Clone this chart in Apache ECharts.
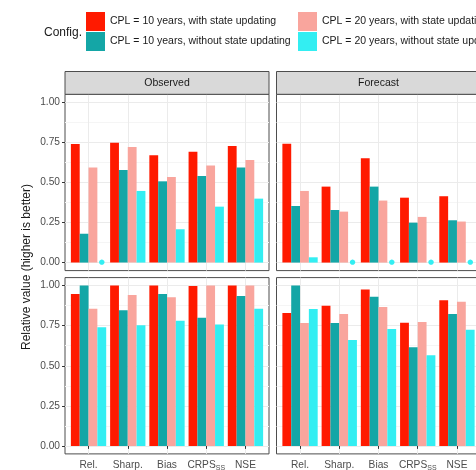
<!DOCTYPE html>
<html><head><meta charset="utf-8">
<script src="https://cdn.jsdelivr.net/npm/echarts@6/dist/echarts.min.js"></script>
<style>html,body{margin:0;padding:0;background:#fff}#c{width:476px;height:470px}</style>
</head><body><div id="c"></div>
<script>
const categories = ['Rel.', 'Sharp.', 'Bias', 'CRPS_SS', 'NSE'];
const configNames = [
  'CPL = 10 years, with state updating',
  'CPL = 10 years, without state updating',
  'CPL = 20 years, with state updating',
  'CPL = 20 years, without state updating'
];
const facetNames = ['Observed', 'Forecast'];
const yTicks = [0, 0.25, 0.5, 0.75, 1];
const yMinor = [0.125, 0.375, 0.625, 0.875];
const xPositions = [1, 2, 3, 4, 5];

// top row
const obsTop10With    = [0.740, 0.748, 0.669, 0.692, 0.728];
const obsTop10Without = [0.180, 0.578, 0.507, 0.540, 0.593];
const obsTop20With    = [0.593, 0.721, 0.534, 0.605, 0.640];
const obsTop20Without = [0,     0.447, 0.208, 0.349, 0.399];
const fcTop10With     = [0.742, 0.474, 0.651, 0.405, 0.414];
const fcTop10Without  = [0.353, 0.328, 0.474, 0.249, 0.264];
const fcTop20With     = [0.447, 0.318, 0.387, 0.285, 0.256];
const fcTop20Without  = [0.033, 0,     0,     0,     0];
// bottom row
const obsBot10With    = [0.948, 1.000, 1.000, 0.997, 1.000];
const obsBot10Without = [1.000, 0.846, 0.948, 0.800, 0.935];
const obsBot20With    = [0.856, 0.942, 0.927, 1.000, 1.000];
const obsBot20Without = [0.740, 0.752, 0.781, 0.758, 0.856];
const fcBot10With     = [0.829, 0.875, 0.975, 0.769, 0.908];
const fcBot10Without  = [1.000, 0.767, 0.931, 0.615, 0.823];
const fcBot20With     = [0.767, 0.823, 0.867, 0.773, 0.900];
const fcBot20Without  = [0.854, 0.660, 0.729, 0.565, 0.725];

const colors = ['#FF1A00', '#14A6A6', '#F9A59D', '#33EEF2'];

const panels = [
  { row: 0, col: 0, series: [obsTop10With, obsTop10Without, obsTop20With, obsTop20Without] },
  { row: 0, col: 1, series: [fcTop10With, fcTop10Without, fcTop20With, fcTop20Without] },
  { row: 1, col: 0, series: [obsBot10With, obsBot10Without, obsBot20With, obsBot20Without] },
  { row: 1, col: 1, series: [fcBot10With, fcBot10Without, fcBot20With, fcBot20Without] }
];

const FONT = '"Liberation Sans", Arial, sans-serif';
const colLeft = [65, 276.5];
const panelW = 204;
const rowTop = [94.3, 277.6];
const panelH = 176.3;
const stripTop = 71.5, stripH = 22.8;
const barW = panelW / 5.2 * 0.9 / 4;

const grid = [], xAxis = [], yAxis = [], series = [];
panels.forEach((p, i) => {
  grid.push({
    left: colLeft[p.col], top: rowTop[p.row], width: panelW, height: panelH,
    show: true, borderColor: '#4d4d4d', borderWidth: 1, backgroundColor: '#fff',
    containLabel: false, outerBoundsMode: 'none'
  });
  xAxis.push({
    type: 'value', gridIndex: i, min: 0.4, max: 5.6,
    axisLine: { show: false },
    axisTick: { show: p.row === 1, customValues: xPositions, length: 3, lineStyle: { color: '#333' } },
    axisLabel: {
      show: p.row === 1, customValues: xPositions, margin: 5,
      color: '#4d4d4d', fontSize: 10.2, fontFamily: FONT,
      formatter: v => {
        const c = categories[Math.round(v) - 1];
        if (c === 'CRPS_SS') return '{n|CRPS}{s|SS}';
        return '{n|' + c + '}';
      },
      rich: {
        n: { fontSize: 10.2, color: '#4d4d4d', fontFamily: FONT, lineHeight: 12 },
        s: { fontSize: 7, color: '#4d4d4d', fontFamily: FONT, padding: [6, 0, 0, 0], lineHeight: 12 }
      }
    },
    splitLine: { show: true, lineStyle: { color: '#ebebeb', width: 1 } }
  });
  yAxis.push({
    type: 'value', gridIndex: i, min: -0.05, max: 1.05,
    axisLine: { show: false },
    axisTick: { show: p.col === 0, customValues: yTicks, length: 3, lineStyle: { color: '#333' } },
    axisLabel: {
      show: p.col === 0, customValues: yTicks, margin: 5,
      color: '#4d4d4d', fontSize: 10.2, fontFamily: FONT,
      formatter: v => v.toFixed(2)
    },
    splitLine: { show: true, lineStyle: { color: '#ebebeb', width: 1 } }
  });
  yAxis.push({
    type: 'value', gridIndex: i, min: -0.05, max: 1.05, position: 'left',
    axisLine: { show: false },
    axisTick: { show: false, customValues: yMinor },
    axisLabel: { show: false, customValues: yMinor },
    splitLine: { show: true, lineStyle: { color: '#f5f5f5', width: 1 } }
  });
  p.series.forEach((vals, k) => {
    series.push({
      type: 'bar', name: configNames[k], xAxisIndex: i, yAxisIndex: 2 * i,
      barWidth: barW, barGap: '0%',
      itemStyle: { color: colors[k] },
      emphasis: { disabled: true },
      data: vals.map((v, j) => {
        const item = { value: [xPositions[j], v] };
        if (v === 0) {
          item.label = { show: true, position: 'inside', formatter: '●', color: colors[k], fontSize: 7, fontFamily: 'DejaVu Sans' };
        }
        return item;
      })
    });
  });
});

const graphic = [];
[0, 1].forEach(c => {
  graphic.push({
    type: 'rect', shape: { x: colLeft[c], y: stripTop, width: panelW, height: stripH },
    style: { fill: '#d9d9d9', stroke: '#4d4d4d', lineWidth: 1 }, z: 10
  });
  graphic.push({
    type: 'text', x: colLeft[c] + panelW / 2, y: stripTop + stripH / 2 + 0.5, z: 11,
    style: { text: facetNames[c], fill: '#1a1a1a', font: '10.5px ' + FONT, align: 'center', verticalAlign: 'middle' }
  });
});
graphic.push({
  type: 'text', x: 44, y: 33, z: 11,
  style: { text: 'Config.', fill: '#1a1a1a', font: '12px ' + FONT, align: 'left', verticalAlign: 'middle' }
});
graphic.push({
  type: 'text', x: 27, y: 267, rotation: Math.PI / 2, z: 11,
  style: { text: 'Relative value (higher is better)', fill: '#1a1a1a', font: '12px ' + FONT, align: 'center', verticalAlign: 'middle' }
});

const legendCommon = {
  orient: 'vertical', top: 12, itemWidth: 19, itemHeight: 19, itemGap: 1, icon: 'rect',
  textStyle: { fontSize: 10.5, color: '#1a1a1a', fontFamily: FONT },
  selectedMode: false, padding: 0
};

const chart = echarts.init(document.getElementById('c'), null, { renderer: 'canvas' });
chart.setOption({
  animation: false,
  backgroundColor: '#fff',
  legend: [
    Object.assign({ left: 86, data: [configNames[0], configNames[1]] }, legendCommon),
    Object.assign({ left: 298, data: [configNames[2], configNames[3]] }, legendCommon)
  ],
  grid, xAxis, yAxis, series, graphic
});
</script>
</body></html>
